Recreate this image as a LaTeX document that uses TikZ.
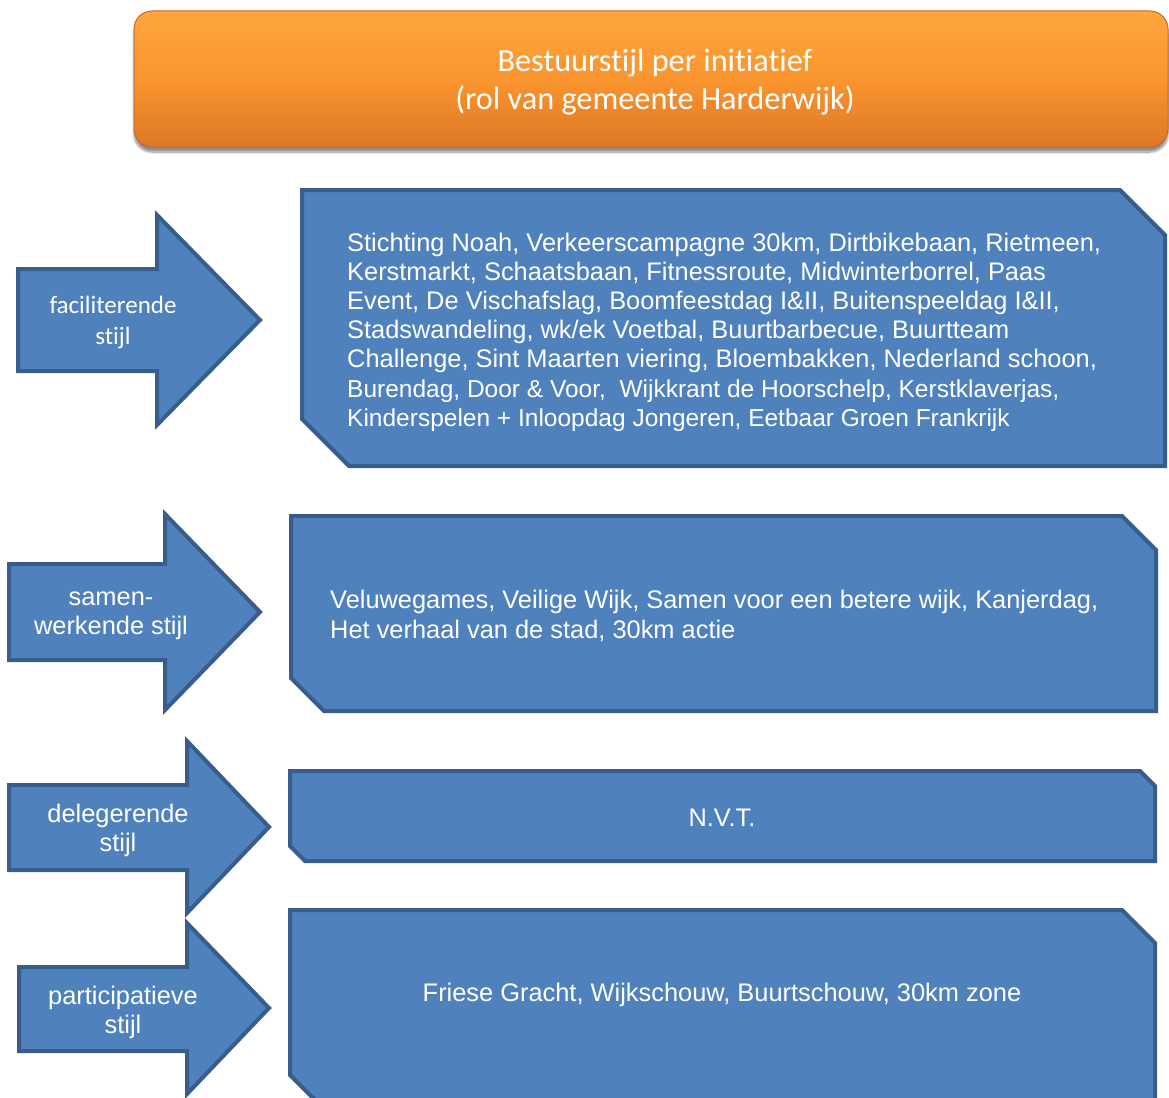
\documentclass[tikz,border=0pt]{standalone}
\usepackage{fontspec}
\setmainfont{Liberation Sans}
\newfontfamily\calibri[Ligatures={NoCommon,NoRare}]{Carlito}
\usetikzlibrary{shadows.blur}
\definecolor{boxblue}{HTML}{4F81BD}
\definecolor{edgeblue}{HTML}{385D8A}
\definecolor{orangetop}{HTML}{FFA63E}
\definecolor{orangemid}{HTML}{FA952F}
\definecolor{orangebot}{HTML}{DD7726}
\definecolor{orangeedge}{HTML}{C96A20}

\tikzset{
  stylearrow/.style={fill=boxblue, draw=edgeblue, line width=4pt, line join=miter},
  listbox/.style={fill=boxblue, draw=edgeblue, line width=4pt, line join=miter},
  armlabel/.style={text=white, align=center, inner sep=0pt,
    font=\fontsize{25.4}{29}\selectfont},
  armlabelcal/.style={text=white, align=center, inner sep=0pt,
    font=\calibri\fontsize{25}{31}\selectfont},
  listtext/.style={text=white, align=left, inner sep=0pt,
    font=\fontsize{25.4}{29.2}\selectfont},
  titletext/.style={text=white, align=center, inner sep=0pt,
    font=\calibri\fontsize{32.3}{38.5}\selectfont},
}
\newcommand\smallerlines{\fontsize{24.5}{29.2}\selectfont}

\begin{document}
\begin{tikzpicture}[x=1pt, y=-1pt]
\useasboundingbox (0,0) rectangle (1169,1097);

% heading bar
\path[blur shadow={shadow xshift=0pt, shadow yshift=-5pt, shadow blur steps=12, shadow opacity=45},
  fill=orangemid, rounded corners=18pt] (134,11) rectangle (1168,147);
\shade[rounded corners=18pt, top color=orangetop, bottom color=orangebot, middle color=orangemid]
  (134,11) rectangle (1168,147);
\draw[orangeedge, line width=1pt, rounded corners=18pt] (134,11) rectangle (1168,147);
\node[titletext] (title) at (655,82) {Bestuurstijl per initiatief\\(rol van gemeente Harderwijk)};

% style arrows
\draw[stylearrow] (18,269) -- (157,269) -- (157,215) -- (260,320) -- (157,425) -- (157,371) -- (18,371) -- cycle;
\draw[stylearrow] (9,564) -- (165,564) -- (165,514) -- (260,612) -- (165,710) -- (165,660) -- (9,660) -- cycle;
\draw[stylearrow] (9,785) -- (187,785) -- (187,741) -- (269,827) -- (187,913) -- (187,870) -- (9,870) -- cycle;
\draw[stylearrow] (19,967) -- (187,967) -- (187,923) -- (269,1008) -- (187,1094) -- (187,1051) -- (19,1051) -- cycle;

\node[armlabelcal] (fac) at (113,322) {faciliterende\\stijl};
\node[armlabel] (sam) at (111,616) {samen-\\werkende stijl};
\node[armlabel] (del) at (118,830) {delegerende\\stijl};
\node[armlabel] (par) at (123,1012) {participatieve\\stijl};

% initiative boxes (snipped corners)
\draw[listbox] (302,190) -- (1120,190) -- (1165,235) -- (1165,466) -- (349,466) -- (302,419) -- cycle;
\draw[listbox] (291,516) -- (1122,516) -- (1156,550) -- (1156,711) -- (324,711) -- (291,678) -- cycle;
\draw[listbox] (290,771) -- (1140,771) -- (1155,786) -- (1155,861) -- (305,861) -- (290,846) -- cycle;
\draw[listbox] (290,910) -- (1122,910) -- (1155,943) -- (1155,1110) -- (325,1110) -- (290,1075) -- cycle;

\node[listtext, anchor=west] (facl) at (347,332) {Stichting Noah, Verkeerscampagne 30km, Dirtbikebaan, Rietmeen,\\
Kerstmarkt, Schaatsbaan, Fitnessroute, Midwinterborrel, Paas\\
Event, De Vischafslag, Boomfeestdag I\&II, Buitenspeeldag I\&II,\\
Stadswandeling, wk/ek Voetbal, Buurtbarbecue, Buurtteam\\
Challenge, Sint Maarten viering, Bloembakken, Nederland schoon,\\
\smallerlines Burendag, Door \& Voor,\ \ Wijkkrant de Hoorschelp, Kerstklaverjas,\\
\smallerlines Kinderspelen + Inloopdag Jongeren, Eetbaar Groen Frankrijk};

\node[listtext, anchor=west] (saml) at (330,616) {Veluwegames, Veilige Wijk, Samen voor een betere wijk, Kanjerdag,\\
Het verhaal van de stad, 30km actie};

\node[listtext] (dell) at (722,818) {N.V.T.};
\node[listtext] (parl) at (722,995) {Friese Gracht, Wijkschouw, Buurtschouw, 30km zone};
\end{tikzpicture}
\end{document}
